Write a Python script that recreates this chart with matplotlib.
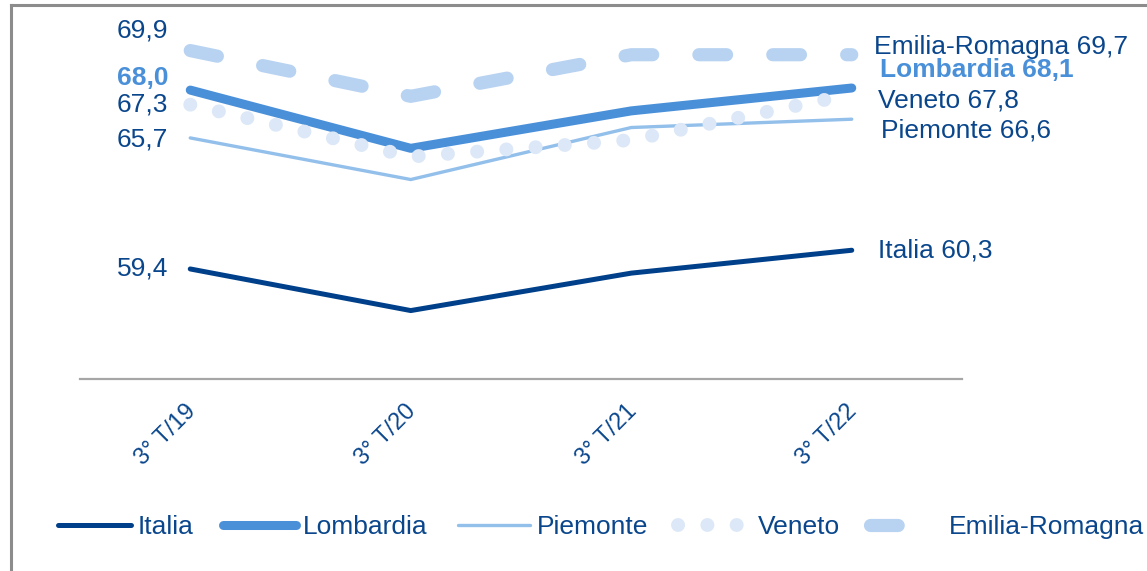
import matplotlib
matplotlib.use("Agg")
import matplotlib.pyplot as plt
from matplotlib.lines import Line2D
from matplotlib.transforms import ScaledTranslation

plt.rcParams['font.family'] = ['Liberation Sans', 'DejaVu Sans']

quarters = ['3° T/19', '3° T/20', '3° T/21', '3° T/22']
italia = [59.4, 57.4, 59.2, 60.3]
lombardia = [68.0, 65.2, 67.0, 68.1]
piemonte = [65.7, 63.7, 66.2, 66.6]
veneto = [67.3, 64.8, 65.6, 67.8]
emilia = [69.9, 67.7, 69.7, 69.7]

txt = '#0A468C'
series = [
    ('Italia', italia, dict(color='#00408A', lw=3.6, solid_capstyle='round')),
    ('Lombardia', lombardia, dict(color='#4A90D9', lw=6.5, solid_capstyle='round')),
    ('Piemonte', piemonte, dict(color='#93BFEB', lw=2.4, solid_capstyle='round')),
    ('Veneto', veneto, dict(color='#DCE8F7', lw=10, linestyle=(0, (0.01, 2.1)),
                            dash_capstyle='round')),
    ('Emilia-Romagna', emilia, dict(color='#B8D3F1', lw=9.5, linestyle=(0, (2.1, 3.5)),
                                    dash_capstyle='round')),
]

# label offsets in points (left dx, left dy, right dx, right dy)
offs = {
    'Italia': (-16, 0, 19, 0),
    'Lombardia': (-16, 8.6, 20, 13),
    'Piemonte': (-16, -1.4, 21, -8),
    'Veneto': (-16, 0, 19, -4.3),
    'Emilia-Romagna': (-16, 14.4, 16, 5.8),
}

fig = plt.figure(figsize=(11.47, 5.71), dpi=100)
ax = fig.add_axes([80/1147, 1-379/571, 882/1147, 369/571])
x = list(range(len(quarters)))

for name, vals, st in series:
    ax.plot(x, vals, label=name, **st)
    fmt = lambda v: f"{v:.1f}".replace('.', ',')
    bold = name == 'Lombardia'
    col = '#4A90D9' if bold else txt
    ldx, ldy, rdx, rdy = offs[name]
    ax.annotate(fmt(vals[0]), (x[0], vals[0]), xytext=(ldx, ldy), textcoords='offset points',
                ha='right', va='center', fontsize=19, color=col,
                fontweight='bold' if bold else 'normal')
    ax.annotate(f"{name} {fmt(vals[-1])}", (x[-1], vals[-1]), xytext=(rdx, rdy),
                textcoords='offset points', ha='left', va='center', fontsize=19, color=col,
                fontweight='bold' if bold else 'normal', annotation_clip=False)

ax.set_xlim(-0.5, 3.5)
ax.set_ylim(54.11, 71.85)
for s in ['top', 'right', 'left']:
    ax.spines[s].set_visible(False)
ax.spines['bottom'].set_color('#A6A6A6')
ax.spines['bottom'].set_linewidth(1.6)
ax.set_yticks([])
ax.set_xticks(x)
ax.set_xticklabels(quarters, rotation=45, ha='right', va='top', rotation_mode='anchor',
                   fontsize=17, color=txt)
ax.tick_params(axis='x', length=0, pad=15)
shift = ScaledTranslation(-6/100, 0, fig.dpi_scale_trans)
for lab in ax.get_xticklabels():
    lab.set_transform(lab.get_transform() + shift)

leg = fig.legend(loc='center left', bbox_to_anchor=(58/1147, 1-527/571), ncol=5,
                 frameon=False, fontsize=19, handlelength=2.75, handletextpad=0.25,
                 columnspacing=1.15, borderpad=0, borderaxespad=0)
for t in leg.get_texts():
    t.set_color(txt)

# outer frame
fig.add_artist(Line2D([11/1147, 11/1147], [0, 1-5/571], color='#8C8C8C', lw=2.2))
fig.add_artist(Line2D([11/1147, 1], [1-5/571, 1-5/571], color='#8C8C8C', lw=2.2))

fig.savefig('out.png', dpi=100)
